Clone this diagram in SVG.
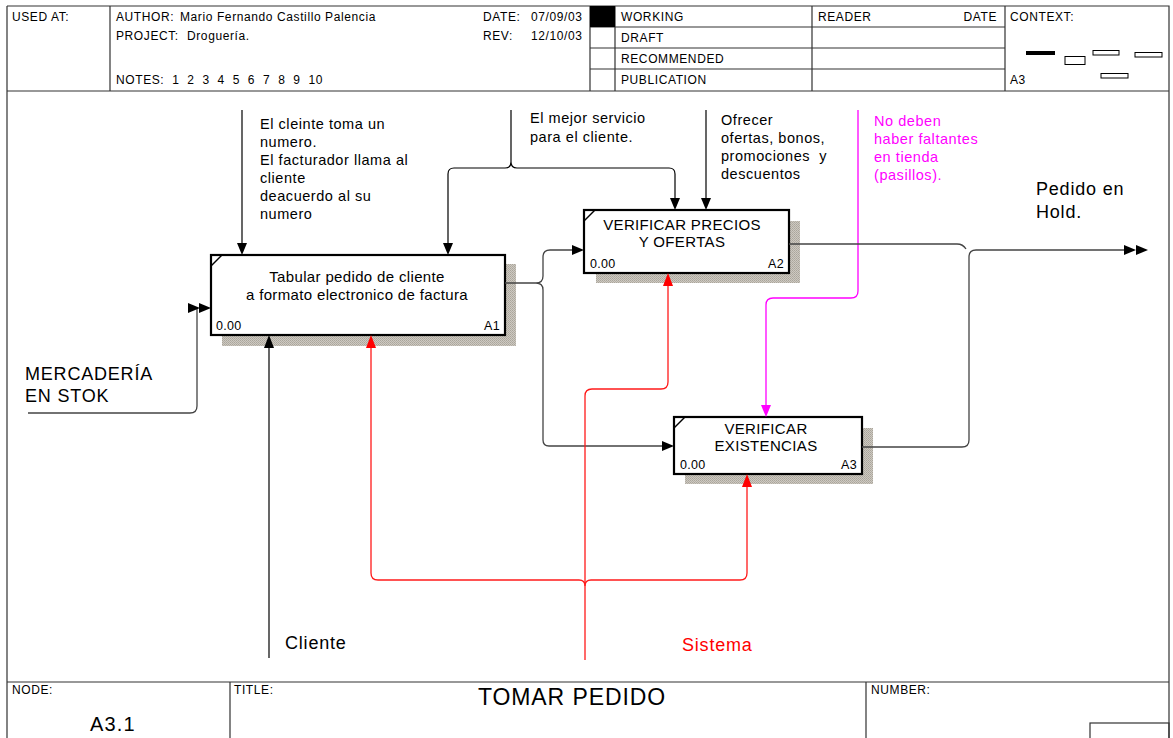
<svg xmlns="http://www.w3.org/2000/svg" width="1173" height="738" viewBox="0 0 1173 738">
  <defs>
    <pattern id="hatch" width="2" height="2" patternUnits="userSpaceOnUse">
      <rect width="2" height="2" fill="#cdc9c1"/>
      <rect width="1" height="1" fill="#aaa59b"/>
      <rect x="1" y="1" width="1" height="1" fill="#b3aea5"/>
    </pattern>
    <style>
      text { font-family: "Liberation Sans", Arial, sans-serif; fill: #000; }
      .hdr { font-size: 12px; letter-spacing: 0.6px; }
      .frame { fill: none; stroke: #333; stroke-width: 1.2; }
      .box { fill: #fff; stroke: #000; stroke-width: 2.2; }
      .shadow { fill: url(#hatch); }
      .title { font-size: 15px; letter-spacing: 0.35px; text-anchor: middle; }
      .small { font-size: 12.5px; letter-spacing: 0.3px; }
      .note { font-size: 14.5px; letter-spacing: 0.55px; }
      .big { font-size: 18px; letter-spacing: 0.8px; }
      .wire { fill: none; stroke: #444; stroke-width: 1.3; }
      .ann { fill: none; stroke: #000; stroke-width: 1.2; }
      .red { fill: none; stroke: #ff1a1a; stroke-width: 1.3; }
      .mag { fill: none; stroke: #ff00ff; stroke-width: 1.3; }
      .head { fill: #000; }
    </style>
  </defs>

  <rect width="1173" height="738" fill="#fff"/>

  <!-- page frame and header block -->
  <g id="header">
    <path class="frame" d="M7,6 H1169 V745 M7,6 V745 M7,91 H1169"/>
    <path class="frame" d="M110,6 V91 M590,6 V91 M615,6 V91 M812,6 V91 M1005,6 V91 M590,27 H1005 M590,48 H1005 M590,69 H1005"/>
    <rect x="590" y="6" width="25" height="21" fill="#000"/>
    <text class="hdr" x="12" y="21">USED AT:</text>
    <text class="hdr" x="116" y="21">AUTHOR:</text>
    <text class="hdr" x="180" y="21">Mario Fernando Castillo Palencia</text>
    <text class="hdr" x="483" y="21">DATE:</text>
    <text class="hdr" x="531" y="21">07/09/03</text>
    <text class="hdr" x="116" y="40">PROJECT:</text>
    <text class="hdr" x="187" y="40">Droguería.</text>
    <text class="hdr" x="483" y="40">REV:</text>
    <text class="hdr" x="531" y="40">12/10/03</text>
    <text class="hdr" x="116" y="84" xml:space="preserve">NOTES:  1  2  3  4  5  6  7  8  9  10</text>
    <text class="hdr" x="621" y="21">WORKING</text>
    <text class="hdr" x="621" y="42">DRAFT</text>
    <text class="hdr" x="621" y="63">RECOMMENDED</text>
    <text class="hdr" x="621" y="84">PUBLICATION</text>
    <text class="hdr" x="818" y="21">READER</text>
    <text class="hdr" x="997" y="21" text-anchor="end">DATE</text>
    <text class="hdr" x="1010" y="21">CONTEXT:</text>
    <text class="hdr" x="1010" y="84">A3</text>
    <rect x="1026" y="51" width="29" height="4" fill="#000"/>
    <g fill="#fff" stroke="#000" stroke-width="1">
      <rect x="1065" y="56.5" width="20" height="8"/>
      <rect x="1093" y="50.5" width="26" height="4.5"/>
      <rect x="1135" y="52.5" width="27" height="4.5"/>
      <rect x="1101" y="73.5" width="27" height="4.5"/>
    </g>
  </g>

  <!-- footer block -->
  <g id="footer">
    <path class="frame" d="M7,682 H1169 M230,682 V745 M866,682 V745"/>
    <rect class="frame" x="1090" y="723" width="79" height="30"/>
    <text class="hdr" x="12" y="694">NODE:</text>
    <text x="90" y="731" font-size="20" letter-spacing="1.2">A3.1</text>
    <text class="hdr" x="234" y="694">TITLE:</text>
    <text x="572" y="705" font-size="23" letter-spacing="0.9" text-anchor="middle">TOMAR PEDIDO</text>
    <text class="hdr" x="871" y="694">NUMBER:</text>
  </g>

  <!-- activity boxes -->
  <g id="A1">
    <rect class="shadow" x="222" y="264" width="294" height="82"/>
    <rect class="box" x="211" y="255" width="294" height="80"/>
    <path d="M211,266 L222,255" stroke="#000" stroke-width="1.5"/>
    <text class="title" x="357" y="282">Tabular pedido de cliente</text>
    <text class="title" x="357" y="300">a formato electronico de factura</text>
    <text class="small" x="216" y="330">0.00</text>
    <text class="small" x="500" y="330" text-anchor="end">A1</text>
  </g>
  <g id="A2">
    <rect class="shadow" x="596" y="221" width="204" height="62"/>
    <rect class="box" x="584" y="210" width="205" height="63"/>
    <path d="M584,221 L595,210" stroke="#000" stroke-width="1.5"/>
    <text class="title" x="682" y="230">VERIFICAR PRECIOS</text>
    <text class="title" x="682" y="247">Y OFERTAS</text>
    <text class="small" x="590" y="268">0.00</text>
    <text class="small" x="784" y="268" text-anchor="end">A2</text>
  </g>
  <g id="A3">
    <rect class="shadow" x="685" y="428" width="188" height="56"/>
    <rect class="box" x="674" y="417" width="188" height="57"/>
    <path d="M674,428 L685,417" stroke="#000" stroke-width="1.5"/>
    <text class="title" x="766" y="434">VERIFICAR</text>
    <text class="title" x="766" y="451">EXISTENCIAS</text>
    <text class="small" x="680" y="469">0.00</text>
    <text class="small" x="857" y="469" text-anchor="end">A3</text>
  </g>

  <!-- arrows -->
  <g id="connectors">
    <!-- controls -->
    <path class="ann" d="M242,110 V244"/>
    <polygon class="head" points="237,243 247,243 242,255"/>
    <path class="ann" d="M511,110 V162 Q511,168 505,168 H454 Q448,168 448,174 V244 M511,162 Q511,168 517,168 H669 Q675,168 675,174 V199"/>
    <polygon class="head" points="443,243 453,243 448,255"/>
    <polygon class="head" points="670,198 680,198 675,210"/>
    <path class="ann" d="M706,110 V199"/>
    <polygon class="head" points="701,198 711,198 706,210"/>
    <path class="mag" d="M858,110 V291 Q858,298 851,298 H773 Q766,298 766,305 V406"/>
    <polygon points="761,405 771,405 766,417" fill="#ff00ff"/>

    <!-- input -->
    <path class="wire" d="M28,413 H190 Q197,413 197,406 V308"/>
    <polygon class="head" points="188,303 188,313 200,308"/>
    <polygon class="head" points="199,303 199,313 211,308"/>

    <!-- A1 output feeding A2 and A3 -->
    <path class="wire" d="M505,283 H536 Q543,283 543,276 V257 Q543,250 550,250 H573 M536,283 Q543,283 543,290 V440 Q543,446 549,446 H663"/>
    <polygon class="head" points="572,245 572,255 584,250"/>
    <polygon class="head" points="662,441 662,451 674,446"/>

    <!-- outputs of A2 and A3 joined -->
    <path class="wire" d="M789,244 H957 Q963,244 966,249 M862,447 H962 Q969,447 969,440 V257 Q969,250 976,250 H1125"/>
    <polygon class="head" points="1124,245 1124,255 1136,250"/>
    <polygon class="head" points="1136,245 1136,255 1148,250"/>

    <!-- mechanisms -->
    <path class="ann" d="M269,658 V347"/>
    <polygon class="head" points="264,348 274,348 269,335"/>
    <path class="red" d="M585,660 V396 Q585,389 592,389 H661 Q668,389 668,382 V285"/>
    <polygon points="663,286 673,286 668,273" fill="#ff0000"/>
    <path class="red" d="M371,347 V573 Q371,580 378,580 H579 Q585,580 585,586 M585,586 Q585,580 591,580 H740 Q747,580 747,573 V486"/>
    <polygon points="366,348 376,348 371,335" fill="#ff0000"/>
    <polygon points="742,487 752,487 747,474" fill="#ff0000"/>
  </g>

  <!-- arrow labels -->
  <g id="labels">
    <text class="note" x="260" y="129">El cleinte toma un</text>
    <text class="note" x="260" y="147">numero.</text>
    <text class="note" x="260" y="165">El facturador llama al</text>
    <text class="note" x="260" y="183">cliente</text>
    <text class="note" x="260" y="201">deacuerdo al su</text>
    <text class="note" x="260" y="219">numero</text>
    <text class="note" x="530" y="123">El mejor servicio</text>
    <text class="note" x="530" y="142">para el cliente.</text>
    <text class="note" x="721" y="125">Ofrecer</text>
    <text class="note" x="721" y="143">ofertas, bonos,</text>
    <text class="note" x="721" y="161" xml:space="preserve">promociones  y</text>
    <text class="note" x="721" y="179">descuentos</text>
    <text class="note" x="874" y="126" style="fill:#ff00ff">No deben</text>
    <text class="note" x="874" y="144" style="fill:#ff00ff">haber faltantes</text>
    <text class="note" x="874" y="162" style="fill:#ff00ff">en tienda</text>
    <text class="note" x="874" y="180" style="fill:#ff00ff">(pasillos).</text>
    <text class="big" x="1036" y="195">Pedido en</text>
    <text class="big" x="1036" y="218">Hold.</text>
    <text class="big" x="25" y="380">MERCADERÍA</text>
    <text class="big" x="25" y="402">EN STOK</text>
    <text class="big" x="285" y="649">Cliente</text>
    <text class="big" x="682" y="651" style="fill:#ff0000">Sistema</text>
  </g>
</svg>
